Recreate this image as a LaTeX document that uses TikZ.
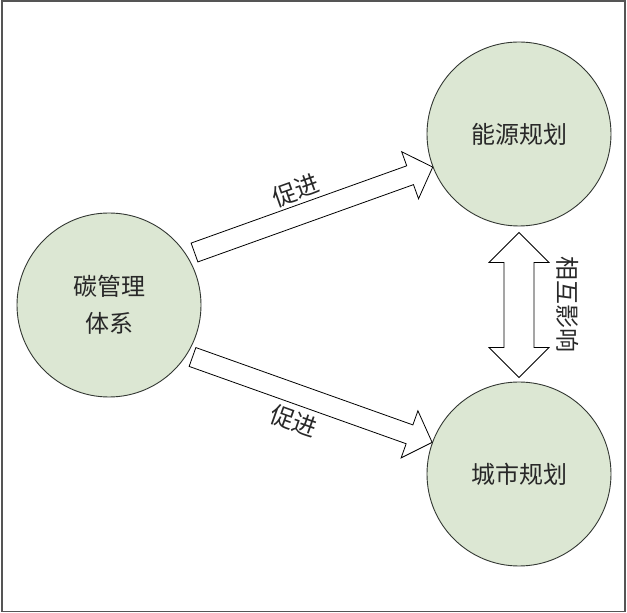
\documentclass[tikz,border=0pt]{standalone}
\usepackage{fontspec}
\newfontfamily\cjkfont{Noto Sans CJK SC}
\usetikzlibrary{calc}

\definecolor{circlegreen}{RGB}{220,231,211}
\definecolor{circleline}{RGB}{50,55,50}
\definecolor{framegray}{RGB}{85,85,85}
\definecolor{textgray}{RGB}{40,40,40}

\tikzset{
  bubble/.style={circle,draw=circleline,line width=0.9pt,fill=circlegreen,minimum size=184pt,inner sep=0pt,
    align=center,text=textgray,font=\cjkfont\fontsize{24}{37}\selectfont},
  arrowline/.style={draw=black,line width=0.8pt,fill=white,line join=miter},
  arrowtext/.style={inner sep=0pt,text=textgray,font=\cjkfont\fontsize{24}{28}\selectfont}
}

% hollow block arrow from #1 to #2: half shaft #3, half head #4, head length #5
\newcommand{\blockarrow}[5]{%
  \coordinate (#2 neck) at ($(#2)!#5!(#1)$);
  \draw[arrowline] ($(#1)!#3!90:(#2)$) -- ($(#2 neck)!#3!90:(#2)$) -- ($(#2 neck)!#4!90:(#2)$) -- (#2)
    -- ($(#2 neck)!#4!-90:(#2)$) -- ($(#2 neck)!#3!-90:(#2)$) -- ($(#1)!#3!-90:(#2)$) -- cycle;}

% same, with a head at both ends
\newcommand{\doubleblockarrow}[5]{%
  \coordinate (#1 neck) at ($(#1)!#5!(#2)$);
  \coordinate (#2 neck) at ($(#2)!#5!(#1)$);
  \draw[arrowline] (#1) -- ($(#1 neck)!#4!90:(#2)$) -- ($(#1 neck)!#3!90:(#2)$) -- ($(#2 neck)!#3!90:(#2)$)
    -- ($(#2 neck)!#4!90:(#2)$) -- (#2) -- ($(#2 neck)!#4!-90:(#2)$) -- ($(#2 neck)!#3!-90:(#2)$)
    -- ($(#1 neck)!#3!-90:(#2)$) -- ($(#1 neck)!#4!-90:(#2)$) -- cycle;}

\begin{document}
\begin{tikzpicture}[x=1pt,y=1pt]
\useasboundingbox (0,0) rectangle (627,613);
\draw[framegray,line width=1.5pt] (2,1.5) rectangle (625,612); % outer frame

\node[bubble] (c) at (109,308) {碳管理\\体系};
\node[bubble] (e) at (519,479) {能源规划};
\node[bubble] (u) at (519,139) {城市规划};

\coordinate (ce tail) at ($(c)+(85.5,52.5)$);
\coordinate (ce tip) at (e.201);
\coordinate (cu tail) at ($(c)+(83.5,-52)$);
\coordinate (cu tip) at (u.160);
\coordinate (eu top) at ($(e.south)+(0,-6)$);
\coordinate (eu bottom) at ($(u.north)+(0,4)$);

\blockarrow{ce tail}{ce tip}{10pt}{25pt}{24pt}
\blockarrow{cu tail}{cu tip}{10pt}{25pt}{24pt}
\doubleblockarrow{eu top}{eu bottom}{15pt}{30pt}{30pt}

\path (ce tail) -- node[arrowtext,sloped,pos=.46,above=13pt] (ce text) {促进} (ce tip);
\path (cu tail) -- node[arrowtext,sloped,pos=.46,below=15pt] (cu text) {促进} (cu tip);
\node[arrowtext,rotate=-90] (eu text) at ($(eu top)!.5!(eu bottom)+(49,0)$) {相互影响};
\end{tikzpicture}
\end{document}
